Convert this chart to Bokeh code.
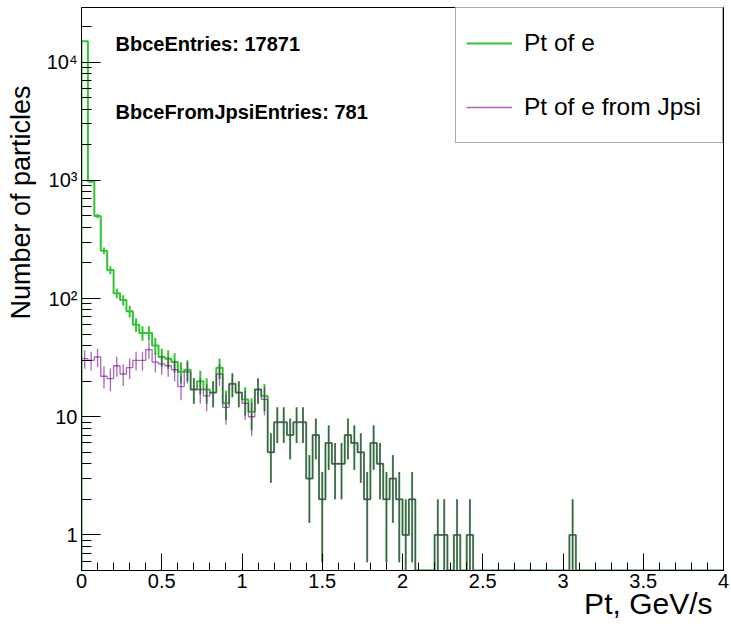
import numpy as np
from bokeh.plotting import figure
from bokeh.models import (Range1d, SingleIntervalTicker, FixedTicker, Label,
                          Legend, LegendItem, Title)
from bokeh.embed import file_html
from bokeh.resources import INLINE

# ---------------- data ----------------
bin_low = 0.0
bin_width = 0.04
n_bins = 100

# Pt of e (all electrons), 100 bins of 0.04 GeV
pt_e_counts = [15000, 980, 500, 254, 174, 111, 97, 78, 60, 51,
               51, 40, 32, 31, 29, 24, 25, 17, 20, 17,
               16, 26, 13, 19, 16, 14, 11, 17, 15, 5,
               9, 9, 7, 9, 9, 3, 7, 2, 6, 4,
               4, 7, 6, 5, 2, 6, 4, 2, 3, 2,
               1, 2, 0, 0, 0, 1, 1, 0, 1, 0,
               1, 0, 0, 0, 0, 0, 0, 0, 0, 0,
               0, 0, 0, 0, 0, 0, 1, 0, 0, 0,
               0, 0, 0, 0, 0, 0, 0, 0, 0, 0,
               0, 0, 0, 0, 0, 0, 0, 0, 0, 0]

# Pt of e from Jpsi
pt_e_jpsi_counts = [31, 30, 32, 22, 21, 27, 23, 26, 30, 30,
                    37, 29, 28, 27, 25, 18, 24, 17, 17, 15,
                    16, 23, 12, 19, 16, 13, 10, 17, 14, 5,
                    9, 9, 7, 9, 9, 3, 7, 2, 6, 4,
                    4, 7, 6, 5, 2, 6, 4, 2, 3, 2,
                    1, 2, 0, 0, 0, 1, 1, 0, 1, 0,
                    1, 0, 0, 0, 0, 0, 0, 0, 0, 0,
                    0, 0, 0, 0, 0, 0, 1, 0, 0, 0,
                    0, 0, 0, 0, 0, 0, 0, 0, 0, 0,
                    0, 0, 0, 0, 0, 0, 0, 0, 0, 0]

series_labels = ["Pt of e", "Pt of e from Jpsi"]
entries_texts = ["BbceEntries: 17871", "BbceFromJpsiEntries: 781"]
x_title = "Pt, GeV/s"
y_title = "Number of particles"
y_tick_values = [1, 10, 100, 1000, 10000]
y_tick_labels = ["1", "10", "10\u00b2", "10\u00b3", "10\u2074"]

# ---------------- figure ----------------
Y_MIN, Y_MAX = 0.5, 29000
FONT = "Liberation Sans"

p = figure(width=731, height=628, x_range=Range1d(0, 4),
           y_range=Range1d(Y_MIN, Y_MAX), y_axis_type="log",
           output_backend="svg", toolbar_location=None,
           min_border_left=80, min_border_right=8,
           min_border_top=7, min_border_bottom=58)
p.background_fill_color = "white"
p.border_fill_color = "white"
p.outline_line_color = "black"
p.outline_line_width = 1
p.xgrid.visible = False
p.ygrid.visible = False

edges = bin_low + bin_width * np.arange(n_bins + 1)
centers = edges[:-1] + bin_width / 2


def hist_path(counts):
    v = np.maximum(np.asarray(counts, dtype=float), Y_MIN)
    xs = [edges[0]]
    ys = [Y_MIN]
    for i in range(n_bins):
        xs += [edges[i], edges[i + 1]]
        ys += [v[i], v[i]]
    xs.append(edges[-1])
    ys.append(Y_MIN)
    return xs, ys


def err_bars(counts):
    c = np.asarray(counts, dtype=float)
    m = c > 0
    e = np.sqrt(c[m])
    lo = np.maximum(c[m] - e, Y_MIN)
    hi = c[m] + e
    return centers[m], lo, hi


GREEN = "#33c433"
PURPLE = "#72008a"

gx, gy = hist_path(pt_e_counts)
g_line = p.line(gx, gy, line_color=GREEN, line_width=2)
cx, lo, hi = err_bars(pt_e_counts)
p.segment(cx, lo, cx, hi, line_color=GREEN, line_width=2)

px_, py_ = hist_path(pt_e_jpsi_counts)
p_line = p.line(px_, py_, line_color=PURPLE, line_width=1.3, line_alpha=0.6)
cx2, lo2, hi2 = err_bars(pt_e_jpsi_counts)
p.segment(cx2, lo2, cx2, hi2, line_color=PURPLE, line_width=1.3, line_alpha=0.6)

# ---------------- axes ----------------
xa = p.xaxis[0]
xa.ticker = SingleIntervalTicker(interval=0.5, num_minor_ticks=5)
ya = p.yaxis[0]
minor = [m * 10.0 ** k for k in range(-1, 5) for m in range(2, 10)]
ya.ticker = FixedTicker(ticks=y_tick_values, minor_ticks=minor)
ya.major_label_overrides = {float(t): s for t, s in zip(y_tick_values, y_tick_labels)}

for ax in (xa, ya):
    ax.axis_line_color = "black"
    ax.major_tick_line_color = "black"
    ax.minor_tick_line_color = "black"
    ax.major_tick_out = 0
    ax.minor_tick_out = 0
    ax.major_label_text_font = FONT
    ax.major_label_text_font_size = "20px"
    ax.major_label_text_color = "black"
xa.major_label_standoff = 3
ya.major_label_standoff = 4
xa.major_tick_in = 17
xa.minor_tick_in = 8
ya.major_tick_in = 19
ya.minor_tick_in = 10

# axis titles (ROOT style: right-aligned at the end of the axis)
p.add_layout(Title(text=x_title, align="right", offset=11, standoff=-7,
                   vertical_align="top",
                   text_font=FONT, text_font_size="30px",
                   text_font_style="normal", text_color="black"), "below")
p.add_layout(Title(text=y_title, align="right", offset=78, standoff=11,
                   vertical_align="top",
                   text_font=FONT, text_font_size="27px",
                   text_font_style="normal", text_color="black"), "left")

# entries texts
for k, t in enumerate(entries_texts):
    p.add_layout(Label(x=34, y=527 - 68 * k, x_units="screen", y_units="screen",
                       text=t, text_align="left", text_baseline="middle",
                       text_font=FONT, text_font_size="20px",
                       text_font_style="bold", text_color="black"))

# legend
legend = Legend(items=[LegendItem(label=series_labels[0], renderers=[g_line]),
                       LegendItem(label=series_labels[1], renderers=[p_line])],
                location="top_right", margin=0, padding=10, spacing=14,
                glyph_width=46, glyph_height=50, label_height=50,
                label_width=188, label_standoff=12,
                label_text_font=FONT, label_text_font_size="24.5px",
                label_text_color="black",
                border_line_color="#555555", border_line_width=1,
                background_fill_color="white", background_fill_alpha=1.0)
p.add_layout(legend)

open("out.html", "w").write(file_html(p, INLINE))
